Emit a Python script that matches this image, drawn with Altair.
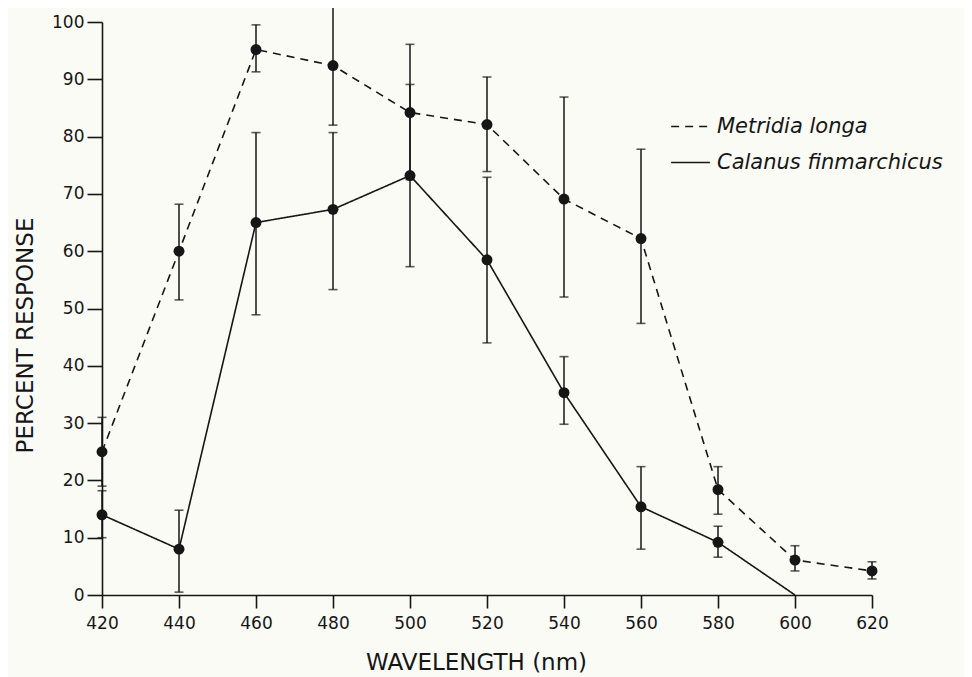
import altair as alt
import pandas as pd

species = ["Metridia longa", "Calanus finmarchicus"]

wl_metridia = [420, 440, 460, 480, 500, 520, 540, 560, 580, 600, 620]
metridia = [25.0, 60.0, 95.2, 92.4, 84.2, 82.1, 69.1, 62.2, 18.4, 6.1, 4.2]
metridia_lo = [19.0, 51.5, 91.3, 82.0, 72.5, 73.9, 52.0, 47.4, 14.1, 4.2, 2.8]
metridia_hi = [31.0, 68.2, 99.5, 102.6, 96.1, 90.4, 86.9, 77.8, 22.4, 8.6, 5.8]

wl_calanus = [420, 440, 460, 480, 500, 520, 540, 560, 580, 600]
calanus = [14.0, 8.0, 65.0, 67.3, 73.2, 58.5, 35.3, 15.4, 9.2, 0.0]
calanus_lo = [10.0, 0.5, 48.9, 53.3, 57.3, 44.0, 29.8, 8.0, 6.6, None]
calanus_hi = [18.2, 14.8, 80.7, 80.7, 89.1, 72.9, 41.6, 22.4, 12.0, None]

x_ticks = [420, 440, 460, 480, 500, 520, 540, 560, 580, 600, 620]
y_ticks = [0, 10, 20, 30, 40, 50, 60, 70, 80, 90, 100]

rows = []
for w, v, lo, hi in zip(wl_metridia, metridia, metridia_lo, metridia_hi):
    rows.append({"species": species[0], "wl": w, "val": v, "lo": lo, "hi": hi})
for w, v, lo, hi in zip(wl_calanus, calanus, calanus_lo, calanus_hi):
    rows.append({"species": species[1], "wl": w, "val": v, "lo": lo, "hi": hi})
df = pd.DataFrame(rows)

FONT = "DejaVu Sans"
INK = "#161616"

x = alt.X("wl:Q", scale=alt.Scale(domain=[420, 620], nice=False, zero=False),
          axis=alt.Axis(values=x_ticks, title="WAVELENGTH (nm)", grid=False,
                        tickSize=13, labelPadding=7, labelFontSize=17, labelFlush=False,
                        titleFontSize=23, titleFontWeight="normal", titlePadding=20,
                        titleX=374,
                        domainColor=INK, tickColor=INK, domainWidth=1.6, tickWidth=1.6,
                        labelColor=INK, titleColor=INK, labelFont=FONT, titleFont=FONT))
y = alt.Y("val:Q", scale=alt.Scale(domain=[0, 100], nice=False),
          axis=alt.Axis(values=y_ticks, title="PERCENT RESPONSE", grid=False,
                        tickSize=15, labelPadding=3, labelFontSize=17, labelFlush=False,
                        titleFontSize=23, titleFontWeight="normal", titlePadding=14,
                        titleY=313,
                        domainColor=INK, tickColor=INK, domainWidth=1.6, tickWidth=1.6,
                        labelColor=INK, titleColor=INK, labelFont=FONT, titleFont=FONT))

dash = alt.StrokeDash("species:N",
                      scale=alt.Scale(domain=species, range=[[8, 6], [1, 0]]),
                      legend=alt.Legend(title=None, orient="none", legendX=568, legendY=84,
                                        symbolType="stroke", symbolSize=1500,
                                        symbolStrokeWidth=1.6, symbolStrokeColor=INK,
                                        labelFontSize=21, labelFontStyle="italic",
                                        labelFont=FONT, labelColor=INK, labelOffset=6,
                                        labelLimit=0, rowPadding=5))

base = alt.Chart(df)

lines = base.mark_line(color=INK, strokeWidth=1.6).encode(
    x=x, y=y, strokeDash=dash, detail="species:N", order="wl:Q")

valid = base.transform_filter("isValid(datum.lo)")

rules = valid.mark_rule(color=INK, strokeWidth=1.5).encode(
    x="wl:Q", y="lo:Q", y2="hi:Q")
caps_lo = valid.mark_tick(color=INK, thickness=1.6, size=9, orient="horizontal").encode(
    x="wl:Q", y="lo:Q")
caps_hi = valid.mark_tick(color=INK, thickness=1.6, size=9, orient="horizontal").encode(
    x="wl:Q", y="hi:Q")
points = valid.mark_point(filled=True, color=INK, size=120, opacity=1).encode(
    x="wl:Q", y="val:Q")

chart = alt.layer(lines, rules, caps_lo, caps_hi, points).properties(
    width=770, height=573,
    autosize=alt.AutoSizeParams(type="none"),
    padding={"left": 94, "top": 14, "right": 92, "bottom": 82},
    background="#fbfbf6",
).configure_view(stroke=None)

chart.save("out.html", embed_options={"renderer": "svg", "actions": False})
